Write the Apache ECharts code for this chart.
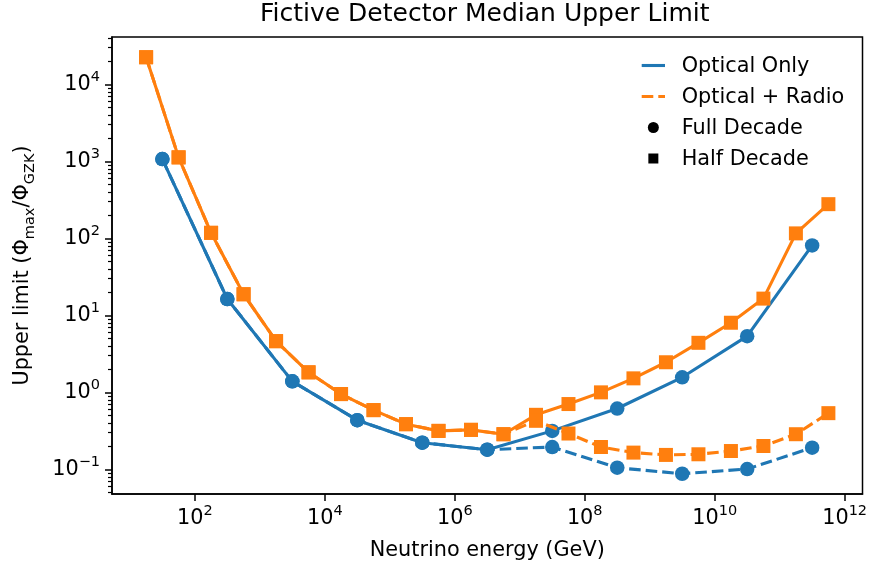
<!DOCTYPE html>
<html>
<head>
<meta charset="utf-8">
<script src="https://cdn.jsdelivr.net/npm/echarts@6/dist/echarts.min.js"></script>
<style>
html,body{margin:0;padding:0;background:#fff;}
#chart{width:870px;height:567px;}
</style>
</head>
<body>
<div id="chart"></div>
<script>
// ---- data (energies in GeV, upper limits in units of the GZK flux) ----
var fullDecadeEnergy = [3.162e1, 3.162e2, 3.162e3, 3.162e4, 3.162e5, 3.162e6, 3.162e7, 3.162e8, 3.162e9, 3.162e10, 3.162e11];
var opticalOnlyFull  = [1070, 16.3, 1.39, 0.435, 0.222, 0.180, 0.316, 0.617, 1.57, 5.37, 81];
var opticalRadioFull = [1070, 16.3, 1.39, 0.435, 0.222, 0.180, 0.195, 0.105, 0.0877, 0.101, 0.191];

var halfDecadeEnergy = [1.778e1, 5.623e1, 1.778e2, 5.623e2, 1.778e3, 5.623e3, 1.778e4, 5.623e4, 1.778e5, 5.623e5, 1.778e6, 5.623e6,
                        1.778e7, 5.623e7, 1.778e8, 5.623e8, 1.778e9, 5.623e9, 1.778e10, 5.623e10, 1.778e11, 5.623e11];
var opticalOnlyHalf  = [22500, 1127, 118, 18.8, 4.62, 1.82, 0.95, 0.588, 0.386, 0.316, 0.326, 0.286,
                        0.511, 0.705, 1.0, 1.52, 2.46, 4.4, 8.02, 16.5, 116, 278];
var opticalRadioHalf = [22500, 1127, 118, 18.8, 4.62, 1.82, 0.95, 0.588, 0.386, 0.316, 0.326, 0.286,
                        0.427, 0.292, 0.195, 0.165, 0.154, 0.157, 0.173, 0.201, 0.286, 0.537];

var xTickExponents = [2, 4, 6, 8, 10, 12];
var yTickExponents = [-1, 0, 1, 2, 3, 4];

var titleText = 'Fictive Detector Median Upper Limit';
var xLabel = 'Neutrino energy (GeV)';
var legendNames = ['Optical Only', 'Optical + Radio', 'Full Decade', 'Half Decade'];

// ---- helpers ----
var FONT = 'DejaVu Sans';
var BLUE = '#1f77b4', ORANGE = '#ff7f0e';
function pairs(xs, ys) {
  return xs.map(function (x, i) { return [Math.log10(x), Math.log10(ys[i])]; });
}
var yMin = -1.32, yMax = 4.615, xMin = 0.725, xMax = 12.275;
var minorY = [];
for (var n = -2; n <= 4; n++) {
  for (var k = 2; k <= 9; k++) {
    var v = n + Math.log10(k);
    if (v > yMin && v < yMax) minorY.push(v);
  }
}
function expLabel(v) {
  var e = Math.round(v);
  var s = e < 0 ? '\u2212' + (-e) : '' + e;
  return '{b|10}{s|' + s + '}';
}
var tickRich = {
  b: {fontFamily: FONT, fontSize: 20.8, lineHeight: 30, color: '#000'},
  s: {fontFamily: FONT, fontSize: 14.5, lineHeight: 21, verticalAlign: 'top', color: '#000'}
};

var lw = 3.1;
var dash = [11.6, 5];

// legend (drawn as graphic elements)
var legX0 = 641.7, legX1 = 665, legTextX = 681.7;
var legRowsY = [65.5, 96.5, 127.5, 158.5];
var legendGraphic = [
  {type: 'line', shape: {x1: legX0, y1: legRowsY[0], x2: legX1, y2: legRowsY[0]}, style: {stroke: BLUE, lineWidth: lw}},
  {type: 'line', shape: {x1: legX0, y1: legRowsY[1], x2: legX1, y2: legRowsY[1]}, style: {stroke: ORANGE, lineWidth: lw, lineDash: dash}},
  {type: 'circle', shape: {cx: (legX0 + legX1) / 2, cy: legRowsY[2], r: 5.5}, style: {fill: '#000'}},
  {type: 'rect', shape: {x: (legX0 + legX1) / 2 - 5, y: legRowsY[3] - 5, width: 10, height: 10}, style: {fill: '#000'}}
];
legendNames.forEach(function (nm, i) {
  legendGraphic.push({type: 'text', x: legTextX, y: legRowsY[i] + 1.5,
    style: {text: nm, fontFamily: FONT, fontSize: 20.8, fill: '#000', textVerticalAlign: 'middle', verticalAlign: 'middle'}});
});

var chart = echarts.init(document.getElementById('chart'), null, {renderer: 'canvas'});
var option = {
  animation: false,
  backgroundColor: '#fff',
  title: {
    text: titleText,
    left: 260, top: 2, padding: 0,
    textStyle: {fontFamily: FONT, fontSize: 25, fontWeight: 'normal', color: '#000'}
  },
  grid: {
    left: 108, right: 7, top: 37, bottom: 73,
    show: true, borderColor: '#000', borderWidth: 1.5, backgroundColor: 'transparent'
  },
  graphic: legendGraphic,
  xAxis: {
    type: 'value', min: xMin, max: xMax,
    name: xLabel, nameLocation: 'middle', nameGap: 46,
    nameTextStyle: {fontFamily: FONT, fontSize: 20.8, color: '#000'},
    axisLine: {show: true, onZero: false, lineStyle: {color: '#000', width: 1.5}},
    axisTick: {show: true, length: 7, lineStyle: {color: '#000', width: 1.5}, customValues: xTickExponents},
    axisLabel: {show: true, margin: 10, customValues: xTickExponents, formatter: expLabel, rich: tickRich},
    splitLine: {show: false}
  },
  yAxis: [{
    type: 'value', min: yMin, max: yMax,
    name: 'Upper limit (\u03A6{sub|max}/\u03A6{sub|GZK})',
    nameLocation: 'middle', nameGap: 74, nameRotate: 90,
    nameTextStyle: {
      fontFamily: FONT, fontSize: 20.8, color: '#000', lineHeight: 30,
      rich: {sub: {fontFamily: FONT, fontSize: 14.5, lineHeight: 18, verticalAlign: 'bottom', color: '#000'}}
    },
    axisLine: {show: true, onZero: false, lineStyle: {color: '#000', width: 1.5}},
    axisTick: {show: true, length: 7, lineStyle: {color: '#000', width: 1.5}, customValues: yTickExponents},
    axisLabel: {show: true, margin: 12, customValues: yTickExponents, formatter: expLabel, rich: tickRich},
    splitLine: {show: false}
  }, {
    type: 'value', min: yMin, max: yMax, position: 'left', offset: 0,
    axisLine: {show: false, onZero: false},
    axisTick: {show: true, length: 4, lineStyle: {color: '#000', width: 1.2}, customValues: minorY},
    axisLabel: {show: false},
    splitLine: {show: false}
  }],
  series: [
    {name: 'Optical Only, full decade', type: 'line', data: pairs(fullDecadeEnergy, opticalOnlyFull),
     symbol: 'circle', symbolSize: 14.5, color: BLUE,
     lineStyle: {color: BLUE, width: lw}, itemStyle: {color: BLUE}, z: 2},
    {name: 'Optical + Radio, full decade', type: 'line', data: pairs(fullDecadeEnergy, opticalRadioFull),
     symbol: 'circle', symbolSize: 14.5, color: BLUE,
     lineStyle: {color: BLUE, width: lw, type: dash}, itemStyle: {color: BLUE}, z: 2},
    {name: 'Optical Only, half decade', type: 'line', data: pairs(halfDecadeEnergy, opticalOnlyHalf),
     symbol: 'rect', symbolSize: 14, color: ORANGE,
     lineStyle: {color: ORANGE, width: lw}, itemStyle: {color: ORANGE}, z: 3},
    {name: 'Optical + Radio, half decade', type: 'line', data: pairs(halfDecadeEnergy, opticalRadioHalf),
     symbol: 'rect', symbolSize: 14, color: ORANGE,
     lineStyle: {color: ORANGE, width: lw, type: dash}, itemStyle: {color: ORANGE}, z: 3}
  ]
};
chart.setOption(option);
</script>
</body>
</html>
